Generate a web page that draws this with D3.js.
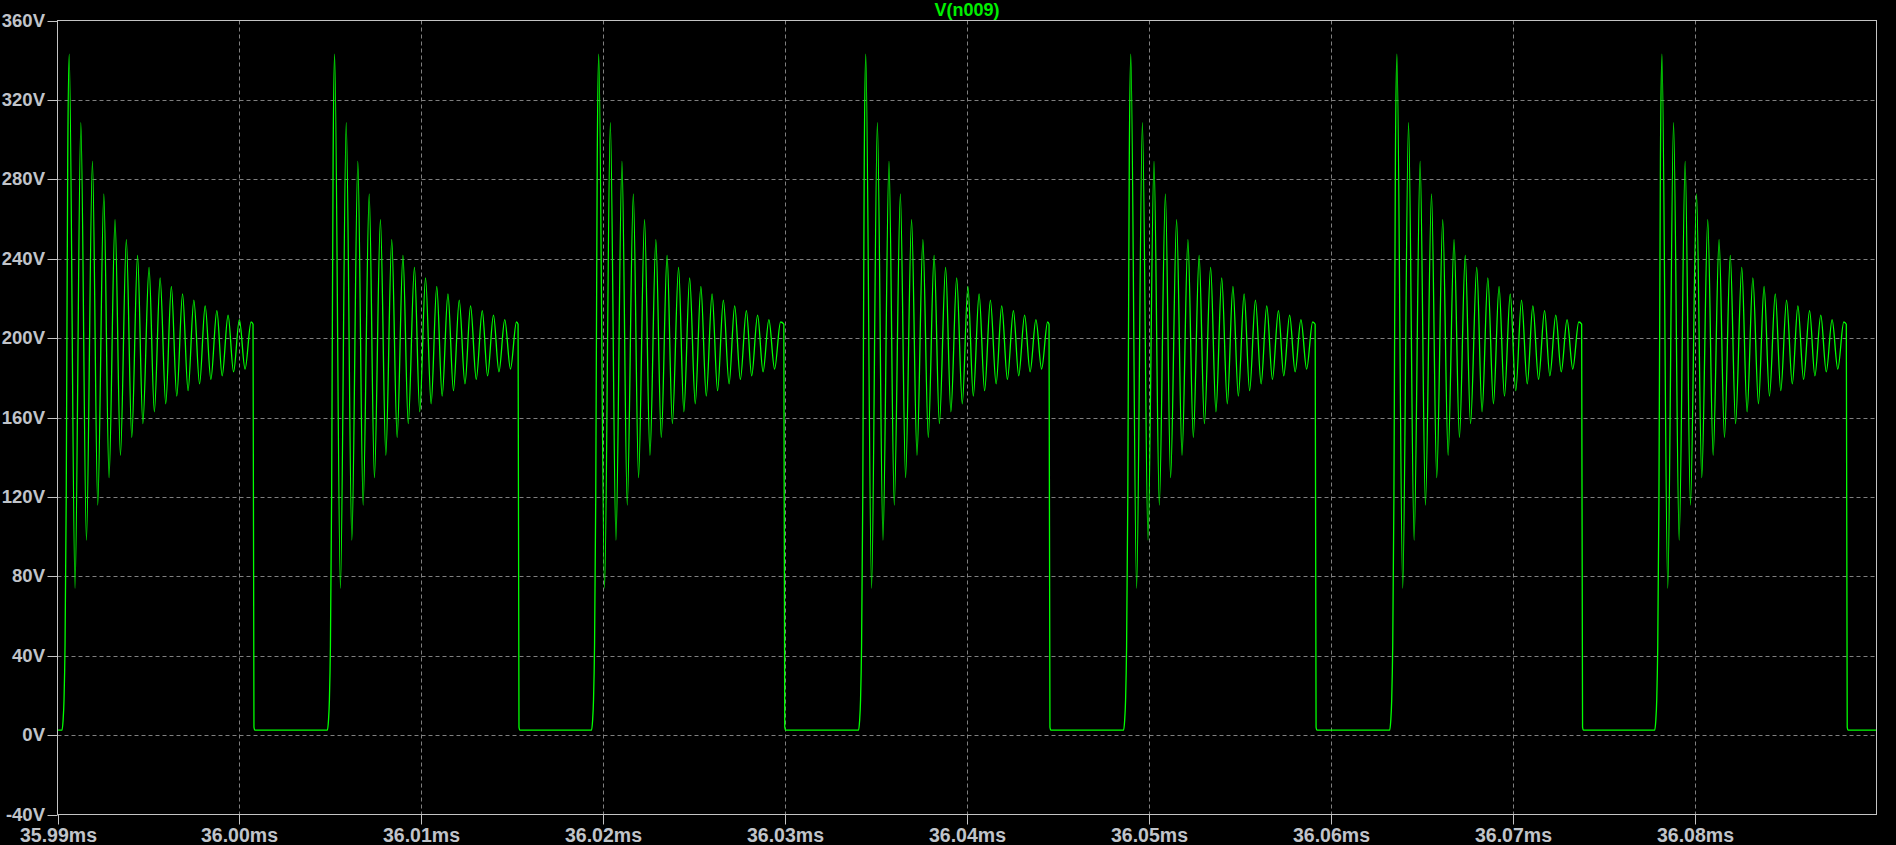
<!DOCTYPE html>
<html>
<head>
<meta charset="utf-8">
<script src="https://cdn.jsdelivr.net/npm/d3@7"></script>
<style>
  html, body { margin: 0; padding: 0; background: #000; overflow: hidden; }
  svg { display: block; }
</style>
</head>
<body>
<svg id="chart" width="1896" height="845"></svg>
<script>
// ---------------- data ----------------
const traceTitle = "V(n009)";

// x axis: time in ms
const xDomain = [35.99, 36.09];
const xTickValues = [35.99, 36.00, 36.01, 36.02, 36.03, 36.04, 36.05, 36.06, 36.07, 36.08];
const xTickLabels = ["35.99ms", "36.00ms", "36.01ms", "36.02ms", "36.03ms", "36.04ms", "36.05ms", "36.06ms", "36.07ms", "36.08ms"];

// y axis: volts
const yDomain = [-40, 360];
const yTickValues = [-40, 0, 40, 80, 120, 160, 200, 240, 280, 320, 360];
const yTickLabels = ["-40V", "0V", "40V", "80V", "120V", "160V", "200V", "240V", "280V", "320V", "360V"];

// switching pulses: rising-edge and falling-edge times (ms)
const pulseRiseMs = [35.99048, 36.00507, 36.01959, 36.03427, 36.04884, 36.06347, 36.07804];
const pulseFallMs = [36.00077, 36.01534, 36.02995, 36.04453, 36.05916, 36.07381, 36.08836];

// off-state level (V)
const offLevelV = 2.5;

// rising edge, relative to the rise time (µs) and volts
const riseOffsetUs = [-0.231, -0.176, -0.121, -0.066, 0.0, 0.082];
const riseVolts    = [2.5, 7, 18, 45, 120, 290];

// damped ringing extrema after the rise (µs from rise, volts)
const ringOffsetUs = [0.165, 0.484, 0.803, 1.111, 1.441, 1.732, 2.067, 2.353, 2.683, 2.980,
                      3.305, 3.602, 3.921, 4.212, 4.553, 4.844, 5.163, 5.471, 5.779, 6.076,
                      6.395, 6.697, 7.016, 7.330, 7.638, 7.951, 8.281, 8.572, 8.897, 9.199,
                      9.518, 9.832, 10.161];
const ringVolts    = [343, 74, 308.5, 98.2, 289, 115.9, 272.7, 129.7, 259.7, 141,
                      249.6, 150, 241.6, 156.9, 235.6, 162.9, 230.3, 166.9, 226.1, 170.8,
                      222.3, 173.5, 219.1, 176.9, 216.2, 179.2, 213.8, 181, 211.6, 183,
                      209.3, 184.4, 208.1];

// falling edge, relative to the fall time (µs) and volts
const fallOffsetUs = [-0.02, 0.03, 0.08];
const fallVolts    = [207, 4, 2.5];

// ---------------- layout ----------------
const W = 1896, H = 845;
const plot = { left: 57.5, right: 1876.5, top: 20.5, bottom: 814.5 };
const colors = {
  bg: "#000000",
  frame: "#c4c4c4",
  grid: "#7f7f7f",
  text: "#c0c4ca",
  trace: "#00ff00",
  title: "#00f000"
};
const fontFamily = "'Liberation Sans', Arial, Helvetica, sans-serif";

const svg = d3.select("#chart");
svg.append("rect").attr("width", W).attr("height", H).attr("fill", colors.bg);

const x = d3.scaleLinear().domain(xDomain).range([plot.left, plot.right]);
const y = d3.scaleLinear().domain(yDomain).range([plot.bottom, plot.top]);

// ---------------- build trace ----------------
const series = [];
series.push([xDomain[0], offLevelV]);
pulseRiseMs.forEach((tr, i) => {
  const tf = pulseFallMs[i];
  riseOffsetUs.forEach((d, k) => series.push([tr + d / 1000, riseVolts[k]]));
  ringOffsetUs.forEach((d, k) => {
    const t = tr + d / 1000;
    if (t < tf + fallOffsetUs[0] / 1000 - 0.00001) series.push([t, ringVolts[k]]);
  });
  fallOffsetUs.forEach((d, k) => series.push([tf + d / 1000, fallVolts[k]]));
});
series.push([xDomain[1], offLevelV]);

// ---------------- grid ----------------
const grid = svg.append("g").attr("class", "grid");
grid.selectAll("line.vg")
  .data(xTickValues.filter(v => v > xDomain[0] + 1e-9 && v < xDomain[1] - 1e-9))
  .enter().append("line")
  .attr("x1", d => Math.round(x(d)) + 0.5).attr("x2", d => Math.round(x(d)) + 0.5)
  .attr("y1", plot.top).attr("y2", plot.bottom)
  .attr("stroke", colors.grid).attr("stroke-width", 1)
  .attr("stroke-dasharray", "4,3");
grid.selectAll("line.hg")
  .data(yTickValues.filter(v => v > yDomain[0] && v < yDomain[1]))
  .enter().append("line")
  .attr("x1", plot.left).attr("x2", plot.right)
  .attr("y1", d => Math.round(y(d)) + 0.5).attr("y2", d => Math.round(y(d)) + 0.5)
  .attr("stroke", colors.grid).attr("stroke-width", 1)
  .attr("stroke-dasharray", "4,3");

// ---------------- trace ----------------
svg.append("clipPath").attr("id", "plotclip")
  .append("rect")
  .attr("x", plot.left).attr("y", plot.top)
  .attr("width", plot.right - plot.left).attr("height", plot.bottom - plot.top);

const line = d3.line()
  .x(d => x(d[0]))
  .y(d => y(d[1]))
  .curve(d3.curveMonotoneX);

svg.append("path")
  .datum(series)
  .attr("clip-path", "url(#plotclip)")
  .attr("fill", "none")
  .attr("stroke", colors.trace)
  .attr("stroke-width", 1.3)
  .attr("stroke-linejoin", "round")
  .attr("d", line);

// ---------------- frame ----------------
svg.append("rect")
  .attr("x", plot.left).attr("y", plot.top)
  .attr("width", plot.right - plot.left).attr("height", plot.bottom - plot.top)
  .attr("fill", "none").attr("stroke", colors.frame).attr("stroke-width", 1);

// ---------------- axes ----------------
const xAxis = d3.axisBottom(x)
  .tickValues(xTickValues)
  .tickFormat((d, i) => xTickLabels[i])
  .tickSizeInner(10).tickSizeOuter(0).tickPadding(4);
const yAxis = d3.axisLeft(y)
  .tickValues(yTickValues)
  .tickFormat((d, i) => yTickLabels[i])
  .tickSizeInner(10).tickSizeOuter(0).tickPadding(2.5);

const gx = svg.append("g").attr("transform", `translate(0,${plot.bottom})`).call(xAxis);
const gy = svg.append("g").attr("transform", `translate(${plot.left},0)`).call(yAxis);

[gx, gy].forEach(g => {
  g.select(".domain").remove();
  g.selectAll(".tick line").attr("stroke", colors.frame).attr("stroke-width", 1);
  g.selectAll(".tick text")
    .attr("fill", colors.text)
    .style("font-family", fontFamily)
    .style("font-weight", "bold");
});
gx.selectAll(".tick text").style("font-size", "19.5px");
gy.selectAll(".tick text").style("font-size", "18.5px");
gx.selectAll(".tick").attr("transform", d => `translate(${Math.round(x(d)) + 0.5},0)`);
gy.selectAll(".tick").attr("transform", d => `translate(0,${Math.round(y(d)) + 0.5})`);

// ---------------- title ----------------
svg.append("text")
  .attr("x", (plot.left + plot.right) / 2)
  .attr("y", 16)
  .attr("text-anchor", "middle")
  .attr("fill", colors.title)
  .style("font-family", fontFamily)
  .style("font-weight", "bold")
  .style("font-size", "18px")
  .text(traceTitle);
</script>
</body>
</html>
